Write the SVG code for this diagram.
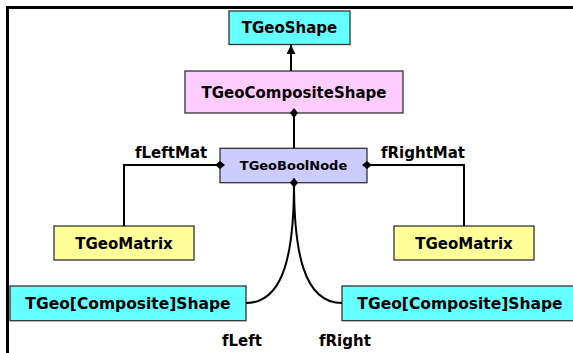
<svg xmlns="http://www.w3.org/2000/svg" width="573" height="353" viewBox="0 0 573 353">
<defs>
<style>
.box{stroke:#333;stroke-width:1.3}
.t{font-family:"DejaVu Sans",Verdana,sans-serif;font-weight:bold;font-size:15px;fill:#000;text-anchor:middle}
.s{font-size:13px}
.c{fill:none;stroke:#000;stroke-width:2}
.lbl{font-family:"DejaVu Sans",Verdana,sans-serif;font-weight:bold;font-size:15px;fill:#000}
</style>
<marker id="arr" viewBox="0 0 10 10" refX="10" refY="5" markerWidth="4.5" markerHeight="4.5" orient="auto" markerUnits="strokeWidth">
<path d="M0,0 L10,5 L0,10 z" fill="#000"/>
</marker>
<marker id="dia" viewBox="0 0 10 8" refX="5" refY="4" markerWidth="5" markerHeight="4" orient="auto" markerUnits="strokeWidth">
<path d="M0,4 L5,0 L10,4 L5,8 z" fill="#000"/>
</marker>
</defs>
<path d="M7.5,353 V7.5 H573" fill="none" stroke="#000" stroke-width="3"/>
<g id="TGeoShape">
<rect class="box" x="229" y="11" width="121" height="33.5" fill="#66FFFF"/>
<text class="t" x="289.5" y="33.3">TGeoShape</text>
</g>
<g id="TGeoCompositeShape">
<rect class="box" x="185" y="71" width="218" height="42" fill="#FFCCFF"/>
<text class="t" x="294" y="97.5">TGeoCompositeShape</text>
</g>
<g id="TGeoBoolNode">
<rect class="box" x="220" y="148.3" width="147" height="34.4" fill="#CCCCFF"/>
<text class="t s" x="293.5" y="169.5">TGeoBoolNode</text>
</g>
<g id="TGeoMatrixLeft">
<rect class="box" x="54" y="226" width="140" height="34" fill="#FFFF99"/>
<text class="t" x="124" y="248.8">TGeoMatrix</text>
</g>
<g id="TGeoMatrixRight">
<rect class="box" x="394" y="226" width="140" height="34" fill="#FFFF99"/>
<text class="t" x="464" y="248.8">TGeoMatrix</text>
</g>
<g id="ShapeLeft">
<rect class="box" x="10" y="286" width="236" height="34.7" fill="#66FFFF"/>
<text class="t" x="128" y="308.6" style="font-size:15.5px">TGeo[Composite]Shape</text>
</g>
<g id="ShapeRight">
<rect class="box" x="342" y="286" width="236" height="34.7" fill="#66FFFF"/>
<text class="t" x="460" y="308.6" style="font-size:15.5px">TGeo[Composite]Shape</text>
</g>
<g id="connectors">
<path class="c" d="M291,71 V45" marker-end="url(#arr)"/>
<path class="c" d="M294,113 V148.3" marker-start="url(#dia)"/>
<path class="c" d="M220,165 H124 V226" marker-start="url(#dia)"/>
<path class="c" d="M367,165 H464 V226" marker-start="url(#dia)"/>
<path class="c" d="M294,182.7 C294,250 285,303 246,303" marker-start="url(#dia)"/>
<path class="c" d="M294,182.7 C294,250 303,303 342,303"/>
</g>
<g id="labels">
<text class="lbl" x="135" y="158">fLeftMat</text>
<text class="lbl" x="381" y="158">fRightMat</text>
<text class="lbl" x="222" y="346">fLeft</text>
<text class="lbl" x="319" y="346">fRight</text>
</g>
</svg>
